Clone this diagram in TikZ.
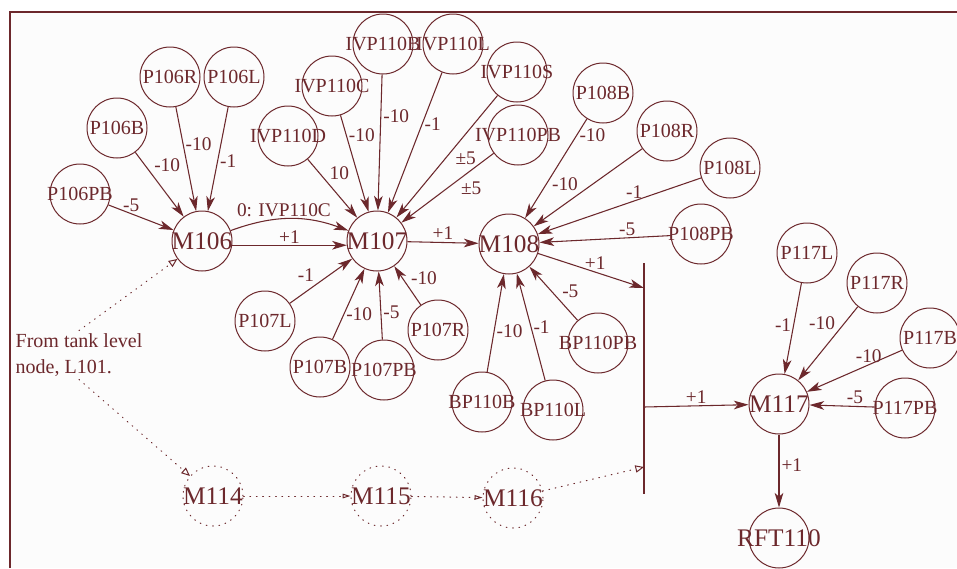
\documentclass[tikz,border=0pt]{standalone}
\usepackage{fontspec}
\setmainfont{Liberation Serif}
\usetikzlibrary{arrows.meta}
\definecolor{wine}{RGB}{108,40,44}
\tikzset{
  pnode/.style={circle,draw,minimum size=45pt,inner sep=0pt,line width=0.75pt,
    font=\fontsize{15}{18}\selectfont,
    execute at begin node={\hbox to 0pt\bgroup\hss},
    execute at end node={\hss\egroup}},
  mnode/.style={pnode,font=\fontsize{19}{22}\selectfont},
  ghost/.style={mnode,line cap=round,dash pattern=on 0.6pt off 4.2pt},
  lbl/.style={font=\fontsize{14.5}{16}\selectfont,inner sep=1.5pt},
  wt/.style={line width=0.8pt,-{Stealth[length=11pt,width=6.5pt,inset=3pt]}},
  hint/.style={line width=0.75pt,line cap=round,dash pattern=on 0.6pt off 4.2pt,
    -{Triangle[open,length=6.5pt,width=5.5pt]}},
  link/.style={hint,-{Triangle[open,length=6pt,width=3.5pt]}},
}
\begin{document}
\begin{tikzpicture}[x=0.75pt,y=-0.75pt,color=wine]
      \useasboundingbox (0,0) rectangle (957,568);
      \fill[black!1] (9,12) rectangle (957,568);
      \draw[line width=1.5pt] (9.5,568) -- (9.5,12) -- (957,12);
      \draw
        (80,194) node[pnode] (P106PB){P106PB}
        (117,128) node[pnode] (P106B){P106B}
        (170,77) node[pnode] (P106R){P106R}
        (234,77) node[pnode] (P106L){P106L}
        (202,241) node[mnode] (M106){M106}
        (288,136) node[pnode] (IVP110D){IVP110D}
        (332,86) node[pnode] (IVP110C){IVP110C}
        (383,44) node[pnode] (IVP110B){IVP110B}
        (453,44) node[pnode] (IVP110L){IVP110L}
        (517,72) node[pnode] (IVP110S){IVP110S}
        (518,135) node[pnode] (IVP110PB){IVP110PB}
        (377,241) node[mnode] (M107){M107}
        (265,321) node[pnode] (P107L){P107L}
        (320,367) node[pnode] (P107B){P107B}
        (384,370) node[pnode] (P107PB){P107PB}
        (438,330) node[pnode] (P107R){P107R}
        (509,244) node[mnode] (M108){M108}
        (603,93) node[pnode] (P108B){P108B}
        (667,131) node[pnode] (P108R){P108R}
        (730,168) node[pnode] (P108L){P108L}
        (701,234) node[pnode] (P108PB){P108PB}
        (598,343) node[pnode] (BP110PB){BP110PB}
        (482,402) node[pnode] (BP110B){BP110B}
        (553,410) node[pnode] (BP110L){BP110L}
        (779,404) node[mnode] (M117){M117}
        (807,253) node[pnode] (P117L){P117L}
        (877,283) node[pnode] (P117R){P117R}
        (930,338) node[pnode] (P117B){P117B}
        (905,408) node[pnode] (P117PB){P117PB}
        (779,538) node[mnode] (RFT110){RFT110}
        (213,496) node[ghost] (M114){M114}
        (381,496) node[ghost] (M115){M115}
        (513,498) node[ghost] (M116){M116};
      \node[align=left,inner sep=2pt,font=\fontsize{15}{19.5}\selectfont] (note) at (79,355)
        {From tank level\\node, L101.};
      \coordinate (bartop) at (644,263);
      \coordinate (barbot) at (644,494);
      \coordinate (barin) at (644,288);
      \coordinate (barout) at (644,407);
      \coordinate (barlow) at (644,467);
      \draw[line width=2.2pt] (bartop) -- (barbot);
      \begin{scope}[wt]
        \draw (P106PB) to node[lbl,pos=.35,above]{-5} (M106);
        \draw (P106B) to node[lbl,pos=.34,above right]{-10} (M106);
        \draw (P106R) to node[lbl,pos=.36,right]{-10} (M106);
        \draw (P106L) to node[lbl,pos=.52,right]{-1} (M106);
        \draw (M106) to[bend left=20] node[lbl,pos=.45,above]{0: IVP110C} (M107);
        \draw (M106.352) to node[lbl,inner sep=1pt,above]{+1} (M107.188);
        \draw (IVP110D) to node[lbl,pos=.39,above right]{10} (M107);
        \draw (IVP110C) to node[lbl,pos=.21,right]{-10} (M107);
        \draw (IVP110B) to node[lbl,pos=.31,right]{-10} (M107);
        \draw (IVP110L) to node[lbl,pos=.37,right]{-1} (M107);
        \draw (IVP110S) to node[lbl,pos=.44,below right]{±5} (M107);
        \draw (IVP110PB) to node[lbl,pos=.38,below right]{±5} (M107);
        \draw (P107L) to node[lbl,pos=.43,above left]{-1} (M107);
        \draw (P107B) to node[lbl,pos=.35,right]{-10} (M107);
        \draw (P107PB) to node[lbl,pos=.4,right]{-5} (M107);
        \draw (P107R) to node[lbl,pos=.46,above right]{-10} (M107);
        \draw (M107) to node[lbl,above]{+1} (M108);
        \draw (P108B) to node[lbl,pos=.16,right]{-10} (M108);
        \draw (P108R) to node[lbl,pos=.57,above left]{-10} (M108);
        \draw (P108L) to node[lbl,pos=.41,above]{-1} (M108);
        \draw (P108PB) to node[lbl,pos=.33,above]{-5} (M108);
        \draw (BP110PB) to node[lbl,pos=.37,above right]{-5} (M108);
        \draw (BP110B) to node[lbl,pos=.42,right]{-10} (M108);
        \draw (BP110L) to node[lbl,pos=.5,right]{-1} (M108);
        \draw (M108) to node[lbl,pos=.54,above]{+1} (barin);
        \draw (barout) to node[lbl,above]{+1} (M117);
        \draw (P117L) to node[lbl,pos=.46,left]{-1} (M117);
        \draw (P117R) to node[lbl,pos=.34,above left]{-10} (M117);
        \draw (P117B) to node[lbl,pos=.35,above]{-10} (M117);
        \draw (P117PB) to node[lbl,pos=.3,above]{-5} (M117);
        \draw (M117) to node[lbl,pos=.42,right]{+1} (RFT110);
      \end{scope}
      \draw[hint] (note.north) to (M106);
      \draw[hint] (note.south) to (M114);
      \draw[link] (M114) to (M115);
      \draw[link] (M115) to (M116);
      \draw[hint] (M116) to (barlow);
    \end{tikzpicture}
\end{document}
